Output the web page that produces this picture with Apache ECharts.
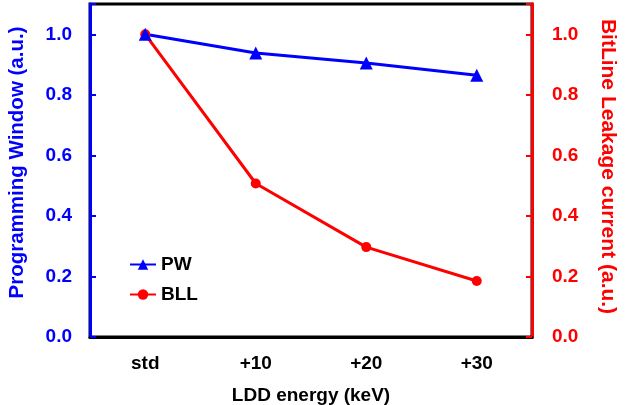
<!DOCTYPE html>
<html>
<head>
<meta charset="utf-8">
<script src="https://cdn.jsdelivr.net/npm/echarts@6/dist/echarts.min.js"></script>
<style>
    html, body { margin: 0; padding: 0; background: #fff; }
    #chart { width: 625px; height: 405px; }
</style>
</head>
<body>
<div id="chart"></div>
<script>
var energies = ['std', '+10', '+20', '+30'];
var pwValues = [1.0, 0.938, 0.905, 0.865];
var bllValues = [1.0, 0.507, 0.297, 0.185];
var yTicks = [0, 0.2, 0.4, 0.6, 0.8, 1.0];

var fontFam = 'Liberation Sans, Arial, sans-serif';

function valueAxis(color, name, pos, nameRotate) {
    var left = pos == 'left';
    return {
        type: 'value',
        position: pos,
        min: 0,
        max: 1.1,
        interval: 0.2,
        name: name,
        nameLocation: 'middle',
        nameRotate: nameRotate,
        nameGap: left ? 62 : 65,
        nameTextStyle: {
            color: color, fontSize: left ? 20.5 : 21, fontWeight: 'bold', fontFamily: fontFam,
            padding: left ? [0, 0, 0, 16] : [0, 8, 0, 0]
        },
        axisLine: {show: true, lineStyle: {color: color, width: 3}},
        axisTick: {show: true, inside: true, length: 6, lineStyle: {color: color, width: 2}},
        axisLabel: {
            color: color, fontSize: 19, fontWeight: 'bold', fontFamily: fontFam,
            margin: left ? 18 : 20,
            formatter: function (v) {
                return yTicks.some(function (t) { return Math.abs(t - v) < 1e-6; }) ? v.toFixed(1) : '';
            }
        },
        splitLine: {show: false}
    };
}

var option = {
    animation: false,
    backgroundColor: '#fff',
    grid: {
        left: 90, right: 93, top: 4, bottom: 68,
        containLabel: false,
        outerBoundsMode: 'none',
        show: true, borderColor: '#000', borderWidth: 3, backgroundColor: 'transparent'
    },
    legend: {
        orient: 'vertical',
        left: 124,
        top: 250,
        itemGap: 11,
        itemWidth: 26,
        itemHeight: 13,
        textStyle: {color: '#000', fontSize: 19, fontWeight: 'bold', fontFamily: fontFam},
        data: ['PW', 'BLL']
    },
    xAxis: {
        type: 'category',
        data: energies,
        boundaryGap: true,
        name: 'LDD energy (keV)',
        nameLocation: 'middle',
        nameGap: 49,
        nameTextStyle: {color: '#000', fontSize: 19, fontWeight: 'bold', fontFamily: fontFam},
        axisLine: {lineStyle: {color: '#000', width: 3}},
        axisTick: {inside: true, length: 5, lineStyle: {color: '#000', width: 2}},
        axisLabel: {color: '#000', fontSize: 19, fontWeight: 'bold', fontFamily: fontFam, margin: 17}
    },
    yAxis: [
        valueAxis('#0000ff', 'Programming Window (a.u.)', 'left', 90),
        valueAxis('#ff0000', 'BitLine Leakage current (a.u.)', 'right', -90)
    ],
    series: [
        {
            name: 'BLL',
            type: 'line',
            yAxisIndex: 1,
            data: bllValues,
            symbol: 'circle',
            symbolSize: 10,
            itemStyle: {color: '#ff0000'},
            lineStyle: {color: '#ff0000', width: 3}
        },
        {
            name: 'PW',
            type: 'line',
            yAxisIndex: 0,
            data: pwValues,
            symbol: 'triangle',
            symbolSize: 13,
            itemStyle: {color: '#0000ff'},
            lineStyle: {color: '#0000ff', width: 3}
        }
    ]
};

var myChart = echarts.init(document.getElementById('chart'));
myChart.setOption(option);
</script>
</body>
</html>
